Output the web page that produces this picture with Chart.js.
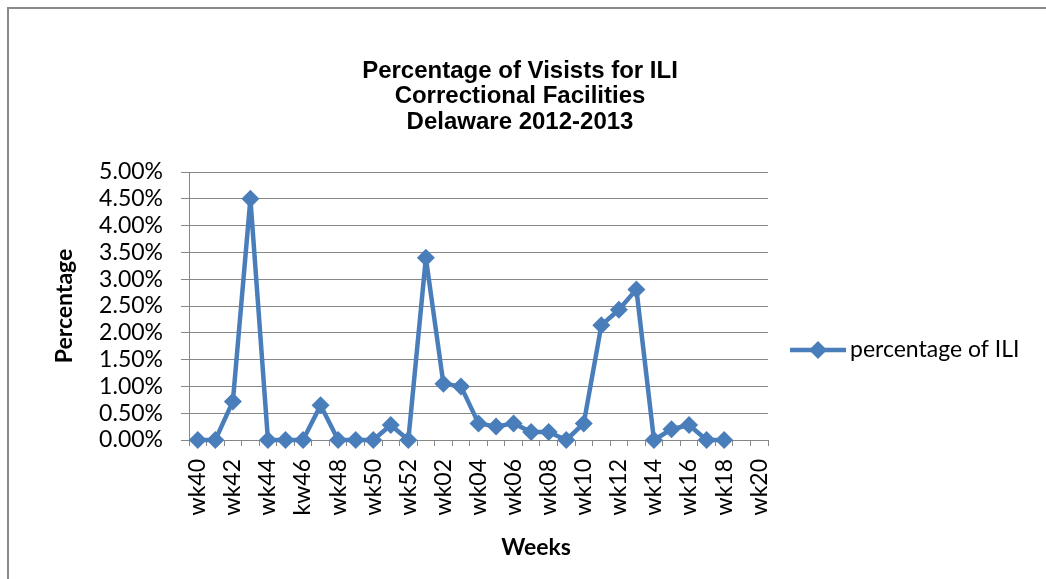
<!DOCTYPE html>
<html>
<head>
<meta charset="utf-8">
<script src="https://cdn.jsdelivr.net/npm/chart.js@4.4.0/dist/chart.umd.min.js"></script>
<style>
  html, body { margin: 0; padding: 0; background: #fff; }
  #wrap { width: 1046px; height: 579px; position: relative; }
</style>
</head>
<body>
<div id="wrap"><canvas id="c"></canvas></div>
<script>
const weeks = ['wk40','wk41','wk42','wk43','wk44','wk45','kw46','wk47','wk48','wk49','wk50','wk51','wk52',
  'wk01','wk02','wk03','wk04','wk05','wk06','wk07','wk08','wk09','wk10',
  'wk11','wk12','wk13','wk14','wk15','wk16','wk17','wk18','wk19','wk20'];
const iliPercent = [0, 0, 0.72, 4.5, 0, 0, 0, 0.65, 0, 0, 0, 0.28, 0,
  3.4, 1.05, 1.0, 0.31, 0.25, 0.31, 0.15, 0.15, 0, 0.31,
  2.14, 2.43, 2.81, 0, 0.2, 0.28, 0, 0, null, null];
const titleLines = ['Percentage of Visists for ILI', 'Correctional Facilities', 'Delaware 2012-2013'];
const seriesName = 'percentage of ILI';
const yTitle = 'Percentage';
const xTitle = 'Weeks';

const BLUE = '#4A7EBB';
const GRID = '#878787';

const decor = {
  id: 'decor',
  beforeDraw(chart) {
    const ctx = chart.ctx;
    ctx.save();
    ctx.fillStyle = '#fff';
    ctx.fillRect(0, 0, chart.width, chart.height);
    ctx.strokeStyle = '#8a8a8a';
    ctx.lineWidth = 2;
    ctx.strokeRect(8, 8, 1200, 800);
    ctx.restore();
  },
  afterDraw(chart) {
    const ctx = chart.ctx;
    ctx.save();
    // chart title
    ctx.fillStyle = '#000';
    ctx.font = 'bold 24px "Liberation Sans"';
    ctx.textAlign = 'center';
    ctx.textBaseline = 'middle';
    titleLines.forEach((t, i) => ctx.fillText(t, 520, 71 + i * 25.5));
    // x-axis title
    ctx.font = 'bold 23px Lato';
    ctx.fillText(xTitle, 536, 548);
    // legend
    const ly = 350;
    ctx.strokeStyle = BLUE;
    ctx.lineWidth = 4.5;
    ctx.beginPath();
    ctx.moveTo(790, ly);
    ctx.lineTo(846, ly);
    ctx.stroke();
    ctx.fillStyle = BLUE;
    ctx.beginPath();
    ctx.moveTo(818, ly - 9);
    ctx.lineTo(827, ly);
    ctx.lineTo(818, ly + 9);
    ctx.lineTo(809, ly);
    ctx.closePath();
    ctx.fill();
    ctx.fillStyle = '#000';
    ctx.font = '23px Lato';
    ctx.textAlign = 'left';
    ctx.fillText(seriesName, 850, ly);
    ctx.restore();
  }
};

new Chart(document.getElementById('c'), {
  type: 'line',
  data: {
    labels: weeks,
    datasets: [{
      label: seriesName,
      data: iliPercent,
      borderColor: BLUE,
      backgroundColor: BLUE,
      borderWidth: 4.5,
      borderJoinStyle: 'round',
      borderCapStyle: 'round',
      tension: 0,
      pointStyle: 'rectRot',
      pointRadius: 9,
      pointHoverRadius: 9,
      pointBorderWidth: 0,
      pointBackgroundColor: BLUE,
      clip: false
    }]
  },
  options: {
    responsive: true,
    maintainAspectRatio: false,
    animation: false,
    events: [],
    layout: { padding: { left: 0, right: 278, top: 172, bottom: 0 } },
    plugins: {
      legend: { display: false },
      tooltip: { enabled: false },
      title: { display: false }
    },
    scales: {
      x: {
        offset: true,
        grid: { display: true, offset: true, drawOnChartArea: false, drawTicks: true, tickLength: 6, color: GRID, lineWidth: 1 },
        border: { display: true, color: GRID, width: 1 },
        ticks: {
          autoSkip: false,
          minRotation: 90,
          maxRotation: 90,
          padding: 13,
          color: '#000',
          font: { family: 'Lato', size: 23 },
          callback: function(v, i) { return i % 2 === 0 ? weeks[i] : ''; }
        },
        afterFit(scale) { scale.height = 139; }
      },
      y: {
        min: 0,
        max: 5,
        grid: { color: GRID, lineWidth: 1, tickLength: 8, drawTicks: true },
        border: { display: true, color: GRID, width: 1 },
        ticks: {
          stepSize: 0.5,
          autoSkip: false,
          padding: 18,
          color: '#000',
          font: { family: 'Lato', size: 23, lineHeight: 1 },
          callback: function(v) { return v.toFixed(2) + '%'; }
        },
        title: {
          display: true,
          text: yTitle,
          color: '#000',
          font: { family: 'Lato', weight: 'bold', size: 23 },
          padding: { top: 51, bottom: 0 }
        },
        afterFit(scale) { scale.width = 189; }
      }
    }
  },
  plugins: [decor]
});
</script>
</body>
</html>
